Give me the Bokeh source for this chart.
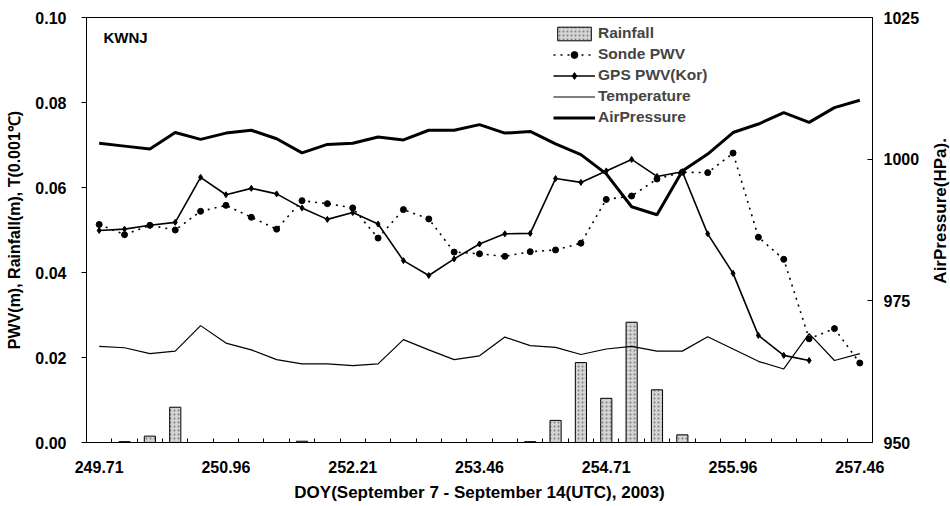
import math
from bokeh.plotting import figure
from bokeh.layouts import row
from bokeh.models import (Range1d, LinearAxis, FixedTicker, Legend, LegendItem,
                          Label, NumeralTickFormatter)
from bokeh.core.properties import value
from bokeh.embed import file_html
from bokeh.resources import INLINE

# ---- data (category index = 6-hour step) ----
categories = list(range(31))
tick_positions = [0, 5, 10, 15, 20, 25, 30]
tick_labels = ["249.71", "250.96", "252.21", "253.46", "254.71", "255.96", "257.46"]

rainfall = [0, 0.0002, 0.0015, 0.0083, 0, 0, 0, 0, 0.0003, 0, 0, 0, 0, 0, 0, 0,
            0, 0.0002, 0.0052, 0.0188, 0.0104, 0.0283, 0.0124, 0.0018, 0, 0, 0, 0, 0, 0, 0]
sonde_pwv = [0.0513, 0.0489, 0.0511, 0.0500, 0.0544, 0.0558, 0.0530, 0.0502, 0.0569, 0.0562,
             0.0552, 0.0481, 0.0548, 0.0526, 0.0448, 0.0444, 0.0438, 0.0449, 0.0453, 0.0469,
             0.0572, 0.0580, 0.0620, 0.0636, 0.0635, 0.0681, 0.0483, 0.0431, 0.0244, 0.0268,
             0.0187]
gps_pwv = [0.0499, 0.0502, 0.0511, 0.0518, 0.0624, 0.0583, 0.0598, 0.0585, 0.0552, 0.0525,
           0.0541, 0.0514, 0.0428, 0.0393, 0.0432, 0.0467, 0.0491, 0.0492, 0.0621, 0.0612,
           0.0639, 0.0666, 0.0626, 0.0637, 0.0491, 0.0398, 0.0252, 0.0205, 0.0193]
temperature = [0.0226, 0.0223, 0.0209, 0.0215, 0.0275, 0.0234, 0.0218, 0.0195, 0.0185, 0.0185,
               0.0181, 0.0185, 0.0242, 0.0218, 0.0195, 0.0204, 0.0248, 0.0228, 0.0224, 0.0207,
               0.0220, 0.0226, 0.0215, 0.0215, 0.0249, 0.0220, 0.0191, 0.0173, 0.0256, 0.0193,
               0.0209]
air_pressure = [1002.8, 1002.3, 1001.8, 1004.7, 1003.5, 1004.6, 1005.1, 1003.6, 1001.1, 1002.6,
                1002.8, 1003.9, 1003.4, 1005.1, 1005.1, 1006.1, 1004.6, 1004.9, 1002.7, 1000.8,
                997.4, 991.6, 990.2, 997.9, 1000.9, 1004.7, 1006.2, 1008.2, 1006.5, 1009.1,
                1010.4]
left_ticks = [0.0, 0.02, 0.04, 0.06, 0.08, 0.10]
right_ticks = [950, 975, 1000, 1025]
right_title = "AirPressure(HPa)."

FONT = "Liberation Sans"

p = figure(width=926, height=506, output_backend="svg", toolbar_location=None,
           x_range=Range1d(-0.5, 30.5), y_range=Range1d(0, 0.1),
           min_border_left=86, min_border_right=54, min_border_top=17, min_border_bottom=64)
p.extra_y_ranges = {"press": Range1d(950, 1025)}
p.grid.visible = False
p.outline_line_color = "black"
p.outline_line_width = 1
p.background_fill_color = "white"
p.border_fill_color = "white"

# glyphs
bars = p.vbar(x=categories, top=rainfall, width=0.44, bottom=0,
              fill_color="#d4d4d4", line_color="black", line_width=1,
              hatch_pattern=".", hatch_color="#808080", hatch_scale=4, hatch_weight=1)
temp_r = p.line(categories, temperature, line_color="black", line_width=1.2)
press_r = p.line(categories, air_pressure, line_color="black", line_width=3,
                 y_range_name="press")
gps_x = categories[:len(gps_pwv)]
gps_l = p.line(gps_x, gps_pwv, line_color="black", line_width=1.6)
gps_m = p.scatter(gps_x, gps_pwv, marker="diamond", size=6, color="black")
sonde_l = p.line(categories, sonde_pwv, line_color="black", line_width=1.6, line_dash="2 5")
sonde_m = p.scatter(categories, sonde_pwv, marker="circle", size=6, color="black")

# x axis
xa = p.xaxis[0]
xa.ticker = FixedTicker(ticks=tick_positions,
                        minor_ticks=[c - 0.5 for c in categories] + [categories[-1] + 0.5])
xa.major_label_overrides = {pos: lab for pos, lab in zip(tick_positions, tick_labels)}
xa.major_tick_line_color = None
xa.major_tick_in = 0
xa.major_tick_out = 0
xa.minor_tick_in = 4
xa.minor_tick_out = 0
xa.minor_tick_line_color = "black"
xa.major_label_standoff = 18
xa.axis_label = "DOY(September 7 - September 14(UTC), 2003)"
xa.axis_label_standoff = 7

# left axis
ya = p.yaxis[0]
ya.ticker = FixedTicker(ticks=left_ticks)
ya.formatter = NumeralTickFormatter(format="0.00")
ya.major_tick_out = 5
ya.major_tick_in = 0
ya.minor_tick_line_color = None
ya.major_label_standoff = 15
ya.axis_label = "PWV(m), Rainfall(m), T(0.001\u2103)"
ya.axis_label_standoff = 9

# right axis
ra = LinearAxis(y_range_name="press", ticker=FixedTicker(ticks=right_ticks))
ra.major_tick_in = 5
ra.major_tick_out = 0
ra.minor_tick_line_color = None
ra.major_label_standoff = 11
p.add_layout(ra, "right")

for ax in (xa, ya, ra):
    ax.axis_line_color = "black"
    ax.axis_line_width = 1
    ax.major_label_text_font = FONT
    ax.major_label_text_font_size = "16px"
    ax.major_label_text_font_style = "bold"
    ax.major_label_text_color = "black"
    ax.axis_label_text_font = FONT
    ax.axis_label_text_font_size = "16px"
    ax.axis_label_text_font_style = "bold"
    ax.axis_label_text_color = "black"
xa.axis_label_text_font_size = "17px"

# legend
legend = Legend(items=[
    LegendItem(label="Rainfall", renderers=[bars]),
    LegendItem(label="Sonde PWV", renderers=[sonde_l, sonde_m]),
    LegendItem(label="GPS PWV(Kor)", renderers=[gps_l, gps_m]),
    LegendItem(label="Temperature", renderers=[temp_r]),
    LegendItem(label="AirPressure", renderers=[press_r]),
], location=(467, 316))
legend.background_fill_alpha = 0
legend.border_line_color = None
legend.padding = 0
legend.margin = 0
legend.spacing = 3
legend.glyph_width = 42
legend.glyph_height = 17
legend.label_standoff = 3
legend.label_text_font = FONT
legend.label_text_font_size = "15.5px"
legend.label_text_font_style = "bold"
legend.label_height = 17
p.add_layout(legend)

p.add_layout(Label(x=0.17, y=0.0953, text="KWNJ", text_baseline="middle",
                   text_font=FONT, text_font_size="15px", text_font_style="bold",
                   text_color="black"))

# narrow strip holding the right-hand axis title, reading bottom-to-top
q = figure(width=24, height=506, output_backend="svg", toolbar_location=None,
           x_range=Range1d(0, 1), y_range=Range1d(0, 1),
           x_axis_location=None, y_axis_location=None,
           min_border_left=0, min_border_right=0, min_border_top=0, min_border_bottom=0)
q.grid.visible = False
q.outline_line_color = None
q.background_fill_color = "white"
q.border_fill_color = "white"
q.text(x=[0.58], y=[0.545], text=[right_title], angle=math.pi / 2,
       text_align="center", text_baseline="middle",
       text_font=value(FONT), text_font_size="17px", text_font_style="bold",
       text_color="black")

layout = row(p, q)
open("out.html", "w").write(file_html(layout, INLINE))
